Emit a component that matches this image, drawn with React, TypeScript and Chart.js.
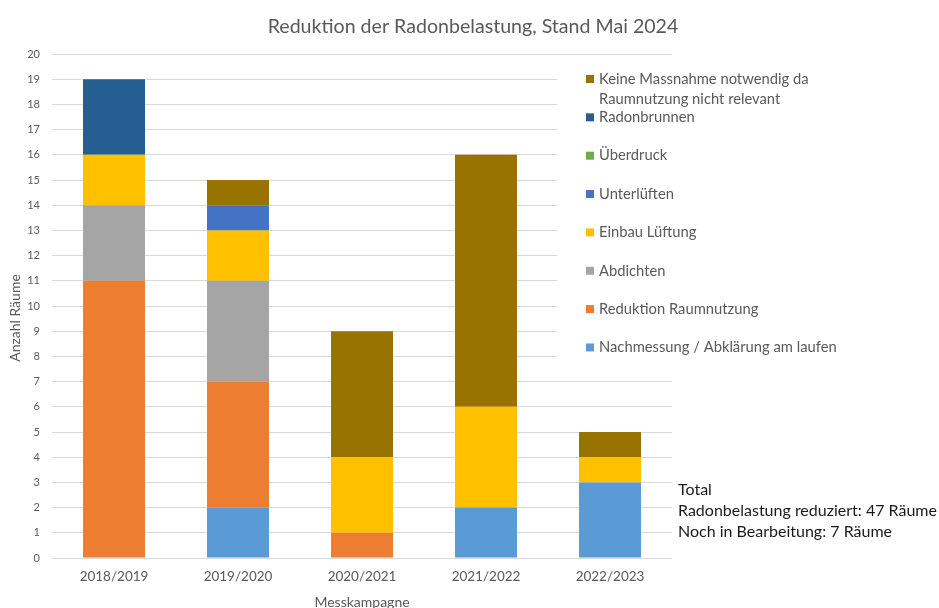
import React, { useEffect, useRef } from "react";
import { Chart, registerables } from "chart.js";

Chart.register(...registerables);

const categories = ["2018/2019", "2019/2020", "2020/2021", "2021/2022", "2022/2023"];

const nachmessung = [0, 2, 0, 2, 3];
const reduktionRaumnutzung = [11, 5, 1, 0, 0];
const abdichten = [3, 4, 0, 0, 0];
const einbauLueftung = [2, 2, 3, 4, 1];
const unterlueften = [0, 1, 0, 0, 0];
const ueberdruck = [0, 0, 0, 0, 0];
const radonbrunnen = [3, 0, 0, 0, 0];
const keineMassnahme = [0, 1, 5, 10, 1];

const seriesLabels = [
  "Nachmessung / Abklärung am laufen",
  "Reduktion Raumnutzung",
  "Abdichten",
  "Einbau Lüftung",
  "Unterlüften",
  "Überdruck",
  "Radonbrunnen",
  "Keine Massnahme notwendig da Raumnutzung nicht relevant",
];
const seriesColors = ["#5B9BD5", "#ED7D31", "#A5A5A5", "#FFC000", "#4472C4", "#70AD47", "#255E91", "#997300"];
const seriesValues = [nachmessung, reduktionRaumnutzung, abdichten, einbauLueftung, unterlueften, ueberdruck, radonbrunnen, keineMassnahme];

const chartTitle = "Reduktion der Radonbelastung, Stand Mai 2024";
const yTitle = "Anzahl Räume";
const xTitle = "Messkampagne";
const totalLines = ["Total", "Radonbelastung reduziert: 47 Räume", "Noch in Bearbeitung: 7 Räume"];

const FONT = "Lato, 'Open Sans', sans-serif";

const decorPlugin = {
  id: "decor",
  afterDraw(chart: any) {
    const ctx = chart.ctx;
    const area = chart.chartArea;
    ctx.save();
    // title
    ctx.fillStyle = "#595959";
    ctx.font = `19.6px ${FONT}`;
    ctx.textAlign = "center";
    ctx.textBaseline = "middle";
    ctx.fillText(chartTitle, 473, 27);

    // axis titles
    ctx.font = `14px ${FONT}`;
    ctx.fillText(xTitle, (area.left + area.right) / 2, 602);
    ctx.save();
    ctx.translate(15, 318);
    ctx.rotate(-Math.PI / 2);
    ctx.fillText(yTitle, 0, 0);
    ctx.restore();

    // legend box
    ctx.fillStyle = "#FFFFFF";
    ctx.fillRect(557, 64, area.right - 557 + 2, 302);
    ctx.textAlign = "left";
    ctx.font = `14.75px ${FONT}`;
    const ds = chart.data.datasets;
    const order = [7, 6, 5, 4, 3, 2, 1, 0];
    order.forEach((di: number, i: number) => {
      const y = 79 + 38.35 * i;
      ctx.fillStyle = ds[di].backgroundColor;
      ctx.fillRect(586, y - 4, 8, 8);
      ctx.fillStyle = "#595959";
      if (di === 7) {
        ctx.fillText("Keine Massnahme notwendig da", 599, y);
        ctx.fillText("Raumnutzung nicht relevant", 599, y + 20);
      } else {
        ctx.fillText(ds[di].label, 599, y);
      }
    });

    // total text
    ctx.fillStyle = "#1a1a1a";
    ctx.font = `16px ${FONT}`;
    totalLines.forEach((t, i) => ctx.fillText(t, 678, 490 + 21 * i));
    ctx.restore();
  },
};

export default function App() {
  const ref = useRef<HTMLCanvasElement>(null);
  useEffect(() => {
    if (!ref.current) return;
    const chart = new Chart(ref.current, {
      type: "bar",
      data: {
        labels: categories,
        datasets: seriesValues.map((vals, i) => ({
          label: seriesLabels[i],
          data: vals,
          backgroundColor: seriesColors[i],
          borderWidth: 0,
          categoryPercentage: 1,
          barPercentage: 0.5,
        })),
      },
      options: {
        animation: false,
        responsive: false,
        maintainAspectRatio: false,
        layout: { padding: { left: 0, top: 54, right: 267, bottom: 0 } },
        plugins: {
          legend: { display: false },
          title: { display: false },
          tooltip: { enabled: false },
        },
        scales: {
          x: {
            stacked: true,
            grid: { display: false, drawTicks: false },
            border: { display: false },
            ticks: { color: "#595959", font: { family: FONT, size: 13.5 }, padding: 11, maxRotation: 0 },
            afterFit: (s: any) => { s.height = 50; },
          },
          y: {
            stacked: true,
            min: 0,
            max: 20,
            grid: { color: "#D9D9D9", lineWidth: 1, drawTicks: false },
            border: { display: false },
            ticks: { stepSize: 1, color: "#595959", font: { family: FONT, size: 11 }, padding: 12 },
            afterFit: (s: any) => { s.width = 52; },
          },
        },
      },
      plugins: [decorPlugin],
    });
    return () => chart.destroy();
  }, []);
  return (
    <div style={{ position: "absolute", left: 0, top: 0, width: 939, height: 608, background: "#fff" }}>
      <canvas ref={ref} width={939} height={608} />
    </div>
  );
}
